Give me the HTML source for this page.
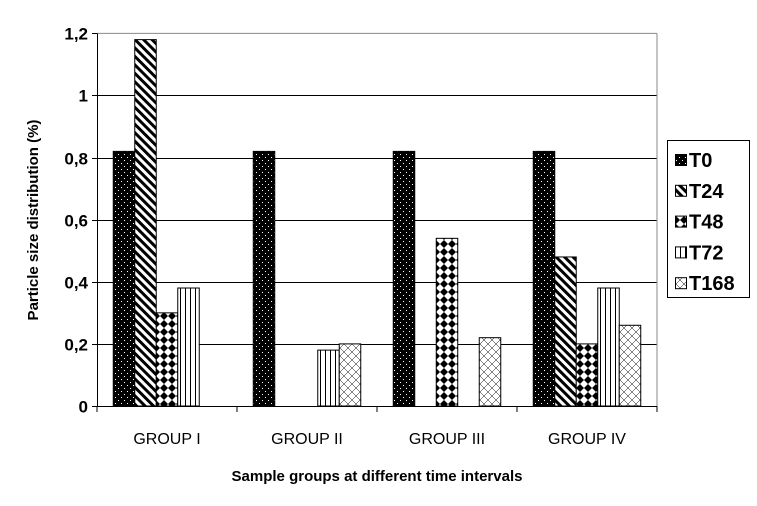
<!DOCTYPE html>
<html><head><meta charset="utf-8"><style>
body{margin:0;background:#fff;}
svg{display:block;font-family:"Liberation Sans",Arial,sans-serif;}
</style></head><body>
<svg id="chart" width="757" height="506" viewBox="0 0 757 506">
<defs>
<pattern id="pT0" width="6" height="6" patternUnits="userSpaceOnUse"><rect width="6" height="6" fill="#000"/><rect x="1" y="1" width="1" height="1" fill="#fff"/><rect x="4" y="4" width="1" height="1" fill="#fff"/></pattern>
<pattern id="pT24" width="6" height="6" patternUnits="userSpaceOnUse" patternTransform="rotate(-45)"><rect width="6" height="6" fill="#fff"/><rect width="3" height="6" fill="#000"/></pattern>
<pattern id="pT48" width="8" height="8" patternUnits="userSpaceOnUse"><rect width="8" height="8" fill="#fff"/><path d="M4 0 L8 4 L4 8 L0 4 Z" fill="#000"/></pattern>
<pattern id="pT72" width="5" height="5" patternUnits="userSpaceOnUse"><rect width="5" height="5" fill="#fff"/><rect width="1" height="5" fill="#000"/></pattern>
<pattern id="pT168" width="8" height="8" patternUnits="userSpaceOnUse"><rect width="8" height="8" fill="#fff"/><path d="M0 8 L8 0 M0 0 L8 8" stroke="#000" stroke-width="0.5"/></pattern>
</defs>
<g id="grid"></g>
<g id="bars"></g>
<g id="axes"></g>
<text x="0" y="0" transform="translate(38,220) rotate(-90)" text-anchor="middle" font-size="15" font-weight="bold">Particle size distribution (%)</text>
<text x="377" y="481" text-anchor="middle" font-size="15" font-weight="bold">Sample groups at different time intervals</text>
<g id="legend"></g>
</svg>
<script>
const categories = ["GROUP I","GROUP II","GROUP III","GROUP IV"];
const seriesNames = ["T0","T24","T48","T72","T168"];
const T0 = [0.82,0.82,0.82,0.82];
const T24 = [1.18,0,0,0.48];
const T48 = [0.30,0,0.54,0.20];
const T72 = [0.38,0.18,0,0.38];
const T168 = [0,0.20,0.22,0.26];
const yTicks = [0,0.2,0.4,0.6,0.8,1,1.2];
const yTickLabels = ["0","0,2","0,4","0,6","0,8","1","1,2"];
const series = [T0,T24,T48,T72,T168];
const NS = "http://www.w3.org/2000/svg";
const X0=97, X1=657, Y0=406, Y1=33.4, YMAX=1.2;
const y = v => Y0 - v/YMAX*(Y0-Y1);
const gw = (X1-X0)/categories.length, bw=21.5, off=(gw-bw*5)/2;
const x = (gi,si) => X0 + gi*gw + off + si*bw;
function mk(tag,attrs,parent){const e=document.createElementNS(NS,tag);for(const k in attrs)e.setAttribute(k,attrs[k]);parent.appendChild(e);return e;}
const grid=document.getElementById('grid'), bars=document.getElementById('bars'), axes=document.getElementById('axes'), legend=document.getElementById('legend');
yTicks.forEach((t,i)=>{
  const yy=Math.round(y(t))+0.5;
  if(t>0&&t<YMAX){const l=mk('line',{x1:X0,x2:X1,y1:yy,y2:yy,stroke:'#000','stroke-width':1},grid);
  
  }
  mk('line',{x1:X0-5,x2:X0,y1:yy,y2:yy,stroke:'#000'},axes);
  const tx=mk('text',{x:X0-9,y:yy+6,'text-anchor':'end','font-size':17,'font-weight':'bold'},axes);
  tx.textContent=yTickLabels[i];
  
  
});
mk('line',{x1:X0,x2:X1,y1:Y1,y2:Y1,stroke:'#888'},grid);
mk('line',{x1:X1,x2:X1,y1:Y1,y2:Y0,stroke:'#888'},grid);
series.forEach((s,si)=>{
  s.forEach((v,gi)=>{
    if(v<=0)return;
    const r=mk('rect',{x:x(gi,si),y:y(v),width:bw,height:Y0-y(v),fill:'url(#p'+seriesNames[si]+')',stroke:'#000','stroke-width':1},bars);
    
    
  });
});
mk('line',{x1:X0+0.5,x2:X0+0.5,y1:Y1,y2:Y0+1,stroke:'#000'},axes);
mk('line',{x1:X0,x2:X1,y1:Y0+0.5,y2:Y0+0.5,stroke:'#000'},axes);
categories.forEach((c,gi)=>{
  const xx=X0+(gi+1)*gw;
  mk('line',{x1:xx,x2:xx,y1:Y0,y2:Y0+6,stroke:'#000'},axes);
  const t=mk('text',{x:X0+gi*gw+gw/2,y:444,'text-anchor':'middle','font-size':16},axes);
  t.textContent=c;
  
  
});
mk('line',{x1:X0,x2:X0,y1:Y0,y2:Y0+6,stroke:'#000'},axes);
mk('rect',{x:667.5,y:140.5,width:82,height:157,fill:'#fff',stroke:'#000'},legend);
seriesNames.forEach((n,i)=>{
  const cy=160+i*30.8;
  const sw=mk('rect',{x:675.5,y:cy-5.5,width:11,height:11,fill:'url(#p'+n+')',stroke:'#000'},legend);
  
  
  const t=mk('text',{x:689,y:cy+7,'font-size':20,'font-weight':'bold'},legend);
  t.textContent=n;
  
  
});
</script>
</body></html>
